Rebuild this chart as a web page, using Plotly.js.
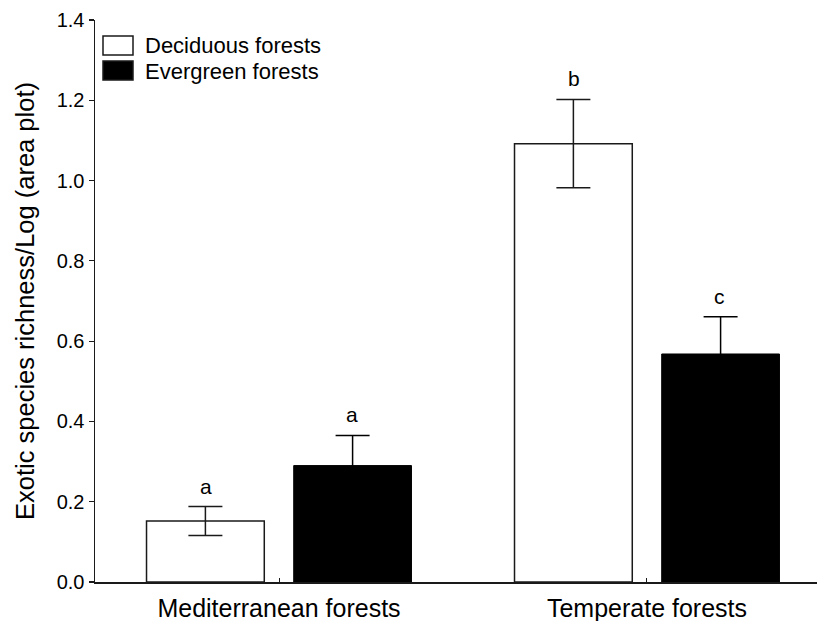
<!DOCTYPE html>
<html>
<head>
<meta charset="utf-8">
<script src="https://cdn.plot.ly/plotly-3.0.1.min.js"></script>
<style>html,body{margin:0;padding:0;background:#fff;}#chart{width:817px;height:621px;}</style>
</head>
<body>
<div id="chart"></div>
<script>
const categories = ["Mediterranean forests", "Temperate forests"];
const seriesNames = ["Deciduous forests", "Evergreen forests"];
const deciduousMean = [0.152, 1.092];
const deciduousErr = [0.036, 0.110];
const evergreenMean = [0.290, 0.568];
const evergreenErr = [0.075, 0.093];
const deciduousLetters = ["a", "b"];
const evergreenLetters = ["a", "c"];
const yTicks = [0.0, 0.2, 0.4, 0.6, 0.8, 1.0, 1.2, 1.4];

const FONT = "Liberation Sans, Arial, sans-serif";

const traces = [
  {
    type: "bar", name: seriesNames[0], x: categories, y: deciduousMean,
    marker: {color: "#ffffff", line: {color: "#1a1a1a", width: 1.5}},
    error_y: {type: "data", array: deciduousErr, visible: true, color: "#1a1a1a", thickness: 1.5, width: 17},
    showlegend: false, hoverinfo: "skip"
  },
  {
    type: "bar", name: seriesNames[1], x: categories, y: evergreenMean,
    marker: {color: "#000000", line: {color: "#000000", width: 1}},
    error_y: {type: "data", array: evergreenErr, visible: true, color: "#000000", thickness: 1.5, width: 17},
    showlegend: false, hoverinfo: "skip"
  }
];

const annotations = [];
categories.forEach((c, i) => {
  annotations.push({x: c, y: deciduousMean[i] + deciduousErr[i], xref: "x", yref: "y",
    text: deciduousLetters[i], showarrow: false, yanchor: "bottom", yshift: 7, xshift: -73,
    font: {family: FONT, size: 21, color: "#000"}});
  annotations.push({x: c, y: evergreenMean[i] + evergreenErr[i], xref: "x", yref: "y",
    text: evergreenLetters[i], showarrow: false, yanchor: "bottom", yshift: 7, xshift: 73,
    font: {family: FONT, size: 21, color: "#000"}});
});
// legend text
seriesNames.forEach((n, i) => {
  annotations.push({x: 143, y: 46 + i * 25, xref: "paper", yref: "paper", text: n, showarrow: false,
    xanchor: "left", yanchor: "middle", font: {family: FONT, size: 22, color: "#000"}});
});

const layout = {
  width: 817, height: 621,
  margin: {l: 95, r: 0, t: 20, b: 39},
  paper_bgcolor: "#fff", plot_bgcolor: "#fff",
  font: {family: FONT, color: "#000"},
  barmode: "group", bargap: 0.2, bargroupgap: 0.2,
  showlegend: false,
  xaxis: {
    type: "category", range: [-0.5, 1.462], showgrid: false, zeroline: false,
    showline: true, linecolor: "#1a1a1a", linewidth: 1.5,
    ticks: "inside", ticklen: 4, tickwidth: 1, tickcolor: "#1a1a1a",
    ticklabelstandoff: 3,
    tickfont: {family: FONT, size: 25, color: "#000"}, fixedrange: true
  },
  yaxis: {
    range: [0, 1.4], tickvals: yTicks, ticktext: yTicks.map(v => v.toFixed(1)),
    showgrid: false, zeroline: false, showline: true, linecolor: "#1a1a1a", linewidth: 1.5,
    ticks: "outside", ticklen: 5, tickwidth: 1.2, tickcolor: "#1a1a1a",
    tickfont: {family: FONT, size: 20, color: "#000"},
    title: {text: "Exotic species richness/Log (area plot)", font: {family: FONT, size: 25.5, color: "#000"}, standoff: 15},
    fixedrange: true
  },
  annotations: annotations,
  shapes: []
};

// convert legend pixel positions to paper coords
const plotW = 817 - 95, plotH = 621 - 20 - 39;
function px(xp) { return (xp - 95) / plotW; }
function py(yp) { return 1 - (yp - 20) / plotH; }
layout.annotations.forEach(a => {
  if (a.xref === "paper") { a.x = px(a.x); a.y = py(a.y); }
});
const legendColors = ["#ffffff", "#000000"];
legendColors.forEach((col, i) => {
  const top = 36 + i * 25;
  layout.shapes.push({type: "rect", xref: "paper", yref: "paper",
    x0: px(103), x1: px(133), y0: py(top + 19), y1: py(top),
    fillcolor: col, line: {color: "#1a1a1a", width: 1.5}});
});

Plotly.newPlot("chart", traces, layout, {displayModeBar: false, staticPlot: true});
</script>
</body>
</html>
